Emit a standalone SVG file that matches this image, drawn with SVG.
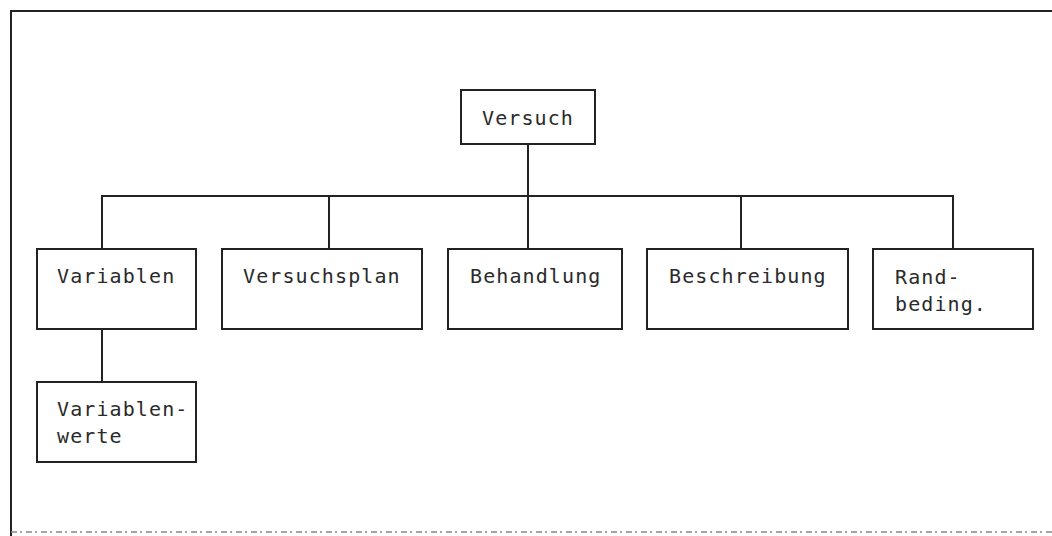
<svg xmlns="http://www.w3.org/2000/svg" width="1052" height="536" viewBox="0 0 1052 536">
<style>
.box{fill:#fff;stroke:#222;stroke-width:2}
.ln{fill:none;stroke:#222;stroke-width:2}
text{font-family:"DejaVu Sans Mono","Liberation Mono",monospace;font-size:20px;letter-spacing:1.1px;fill:#2a2a2a}
</style>
<rect width="1052" height="536" fill="#fff"/>
<g id="frame">
<path class="ln" d="M11,536 V11 H1052"/>
<path d="M11,532 H1052" stroke="#888" stroke-width="1.5" stroke-dasharray="6 3 2 4" fill="none"/>
</g>
<g id="connectors">
<path class="ln" d="M528,144 V196"/>
<path class="ln" d="M102,249 V196 H953 V249"/>
<path class="ln" d="M329,196 V249"/>
<path class="ln" d="M528,196 V249"/>
<path class="ln" d="M741,196 V249"/>
<path class="ln" d="M102,329 V382"/>
</g>
<g id="versuch"><rect class="box" x="461" y="90" width="134" height="54"/><text x="482" y="125">Versuch</text></g>
<g id="variablen"><rect class="box" x="37" y="249" width="159" height="80"/><text x="57" y="283">Variablen</text></g>
<g id="versuchsplan"><rect class="box" x="222" y="249" width="200" height="80"/><text x="243" y="283">Versuchsplan</text></g>
<g id="behandlung"><rect class="box" x="448" y="249" width="174" height="80"/><text x="470" y="283">Behandlung</text></g>
<g id="beschreibung"><rect class="box" x="647" y="249" width="201" height="80"/><text x="669" y="283">Beschreibung</text></g>
<g id="randbeding"><rect class="box" x="873" y="249" width="160" height="80"/><text x="895" y="284">Rand-</text><text x="895" y="311">beding.</text></g>
<g id="variablenwerte"><rect class="box" x="37" y="382" width="159" height="80"/><text x="57" y="416">Variablen-</text><text x="57" y="443">werte</text></g>
</svg>
